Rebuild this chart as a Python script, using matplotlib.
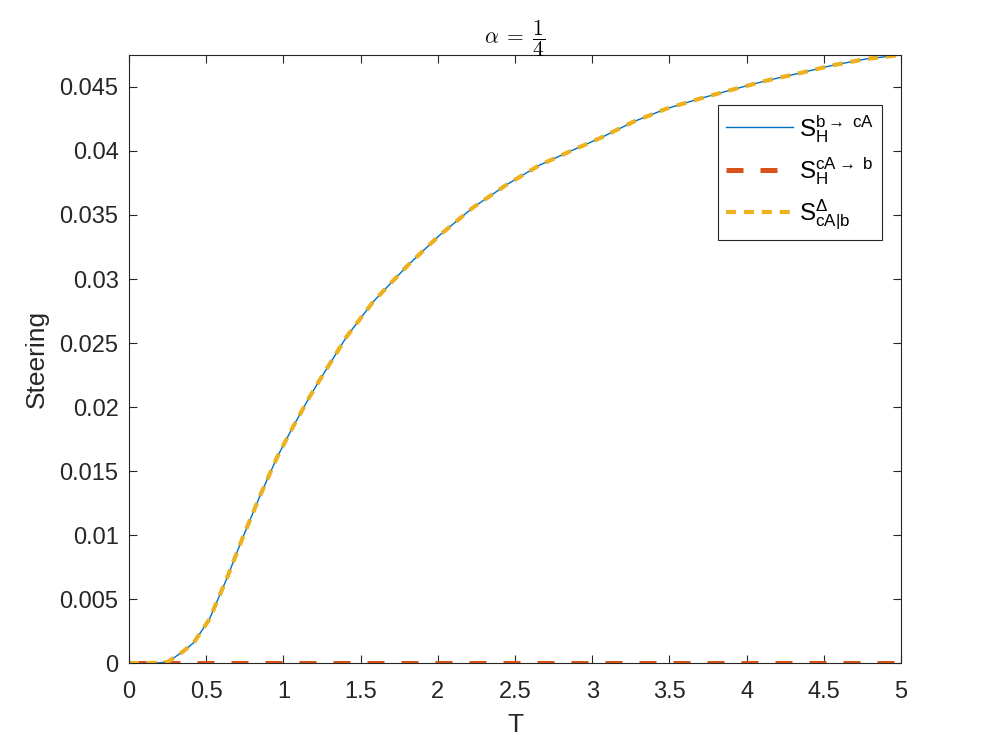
import matplotlib
matplotlib.use('Agg')
import matplotlib.pyplot as plt
from matplotlib.font_manager import FontProperties

# valores
T = [0, 0.1, 0.2, 0.25, 0.29, 0.35, 0.42, 0.52, 0.63, 0.74, 0.85, 0.96,
     1.06, 1.17, 1.24, 1.41, 1.58, 1.80, 2.01, 2.23, 2.45, 2.66, 2.88,
     3.05, 3.27, 3.48, 3.70, 3.91, 4.13, 4.35, 4.56, 4.78, 5.0]
s_b_cA = [0, 0, 0.00002, 0.00008, 0.0004, 0.0009, 0.0016, 0.0034, 0.0065,
          0.0099, 0.0131, 0.0161, 0.0184, 0.0208, 0.0222, 0.0255, 0.0282,
          0.0310, 0.0334, 0.0356, 0.0374, 0.0389, 0.0401, 0.0410, 0.0423,
          0.0433, 0.0441, 0.0448, 0.0455, 0.0461, 0.0467, 0.0472, 0.0475]
s_cA_b = [0.0] * len(T)
s_delta = list(s_b_cA)

xticks = [0, 0.5, 1, 1.5, 2, 2.5, 3, 3.5, 4, 4.5, 5]
xticklabels = ['0', '0.5', '1', '1.5', '2', '2.5', '3', '3.5', '4', '4.5', '5']
yticks = [0, 0.005, 0.01, 0.015, 0.02, 0.025, 0.03, 0.035, 0.04, 0.045]
yticklabels = ['0', '0.005', '0.01', '0.015', '0.02', '0.025', '0.03',
               '0.035', '0.04', '0.045']

plt.rcParams['font.family'] = ['Liberation Sans', 'DejaVu Sans']
plt.rcParams['mathtext.fontset'] = 'custom'
plt.rcParams['mathtext.rm'] = 'Liberation Sans'
plt.rcParams['mathtext.it'] = 'Liberation Sans'

cor_eixo = '#262626'

fig = plt.figure(figsize=(9.96, 7.47), dpi=100)
ax = fig.add_axes([0.1295, 0.1124, 0.7751, 0.814])

ax.plot(T, s_b_cA, color='#0072BD', lw=1.0,
        label=r'$\mathrm{S}_{\mathrm{H}}^{\mathrm{b\rightarrow\ cA}}$')
ax.plot(T, s_cA_b, color='#D95319', lw=3.6, linestyle=(0, (3.4, 3.4)),
        label=r'$\mathrm{S}_{\mathrm{H}}^{\mathrm{cA\rightarrow\ b}}$')
ax.plot(T, s_delta, color='#EDB120', lw=3.0, linestyle=(0, (2.4, 1.9)),
        label=r'$\mathrm{S}_{\mathrm{cA|b}}^{\Delta}$')

ax.set_xlim(0, 5)
ax.set_ylim(0, max(s_b_cA))
ax.set_xticks(xticks)
ax.set_xticklabels(xticklabels)
ax.set_yticks(yticks)
ax.set_yticklabels(yticklabels)
ax.tick_params(direction='in', length=6, width=0.8, colors=cor_eixo,
               labelsize=17, top=True, right=True)
ax.tick_params(axis='x', pad=13)
ax.tick_params(axis='y', pad=7.5)
for s in ax.spines.values():
    s.set_color(cor_eixo)
    s.set_linewidth(0.8)

ax.set_xlabel('T', fontsize=19, color=cor_eixo, labelpad=7)
ax.set_ylabel('Steering', fontsize=19, color=cor_eixo, labelpad=8)
ax.set_title(r'$\alpha\;=\;\dfrac{1}{4}$', fontsize=15.5, math_fontfamily='cm',
             color='black', pad=8)

leg = ax.legend(loc='upper right', bbox_to_anchor=(0.975, 0.918),
                prop=FontProperties(family='Liberation Sans', size=17.5),
                fancybox=False, framealpha=1, edgecolor=cor_eixo,
                handlelength=2.75, borderpad=0.33, labelspacing=0.45,
                handletextpad=0.25, borderaxespad=0)
leg.get_frame().set_linewidth(0.8)

fig.savefig('out.png', dpi=100)
